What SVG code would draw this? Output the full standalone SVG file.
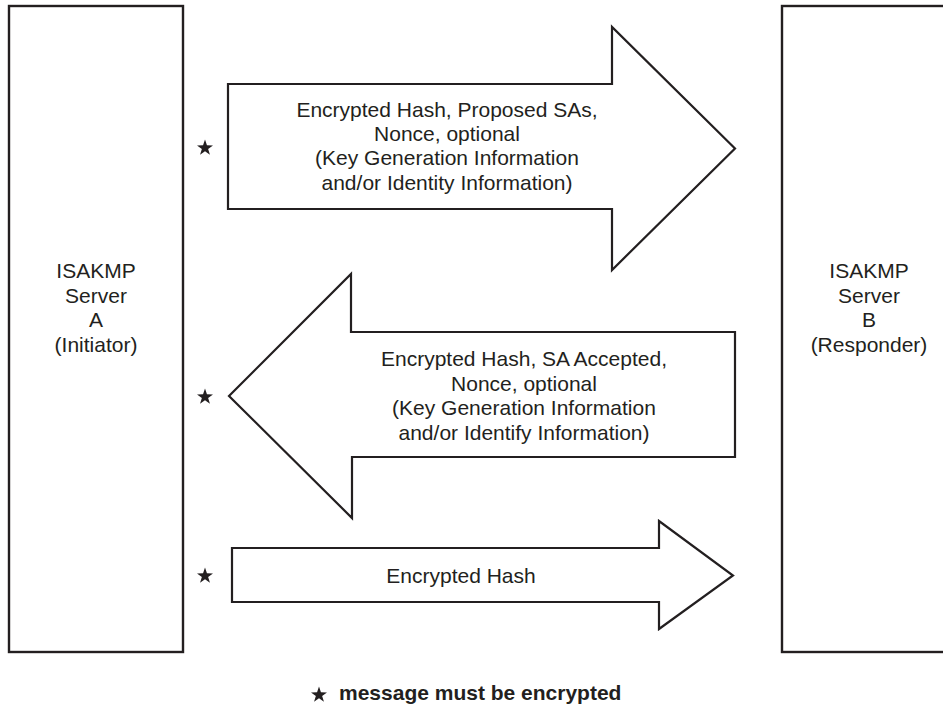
<svg xmlns="http://www.w3.org/2000/svg" width="943" height="706" viewBox="0 0 943 706">
<style>
.box{fill:#fff;stroke:#231f20;stroke-width:2.4}
.arrow{fill:#fff;stroke:#231f20;stroke-width:2.2;stroke-linejoin:miter}
.t{font-family:"Liberation Sans",Arial,sans-serif;font-size:21px;fill:#231f20;text-anchor:middle}
.lg{font-family:"Liberation Sans",Arial,sans-serif;font-size:21px;font-weight:bold;fill:#231f20}
.star{fill:#231f20}
</style>
<defs>
<path id="star" class="star" d="M0,-8.4 L1.94,-2.67 L7.99,-2.6 L3.14,1.02 L4.94,6.8 L0,3.3 L-4.94,6.8 L-3.14,1.02 L-7.99,-2.6 L-1.94,-2.67 Z"/>
</defs>
<rect width="943" height="706" fill="#fff"/>
<g id="serverA">
<rect class="box" x="9" y="6" width="174" height="646"/>
<text class="t" x="96" y="278">ISAKMP</text>
<text class="t" x="96" y="302.5">Server</text>
<text class="t" x="96" y="327">A</text>
<text class="t" x="96" y="352">(Initiator)</text>
</g>
<g id="serverB">
<rect class="box" x="782" y="6" width="174" height="646"/>
<text class="t" x="869" y="278">ISAKMP</text>
<text class="t" x="869" y="302.5">Server</text>
<text class="t" x="869" y="327">B</text>
<text class="t" x="869" y="352">(Responder)</text>
</g>
<g id="connectors">
<g id="msg1">
<polygon class="arrow" points="228,84 612,84 612,27 735,148.5 612,270 612,209 228,209"/>
<text class="t" x="447" y="116.5">Encrypted Hash, Proposed SAs,</text>
<text class="t" x="447" y="141">Nonce, optional</text>
<text class="t" x="447" y="165">(Key Generation Information</text>
<text class="t" x="447" y="189.5">and/or Identity Information)</text>
<use href="#star" x="205" y="148"/>
</g>
<g id="msg2">
<polygon class="arrow" points="735,332 351,332 351,274 229,396 352,518 352,457 735,457"/>
<text class="t" x="524" y="366">Encrypted Hash, SA Accepted,</text>
<text class="t" x="524" y="390.5">Nonce, optional</text>
<text class="t" x="524" y="415">(Key Generation Information</text>
<text class="t" x="524" y="439.5">and/or Identify Information)</text>
<use href="#star" x="205" y="397"/>
</g>
<g id="msg3">
<polygon class="arrow" points="232,548 659,548 659,521 733,575.5 659,629 659,602 232,602"/>
<text class="t" x="461" y="583">Encrypted Hash</text>
<use href="#star" x="205" y="576"/>
</g>
</g>
<g id="legend">
<use href="#star" x="319" y="695"/>
<text class="lg" x="339" y="700">message must be encrypted</text>
</g>
</svg>
